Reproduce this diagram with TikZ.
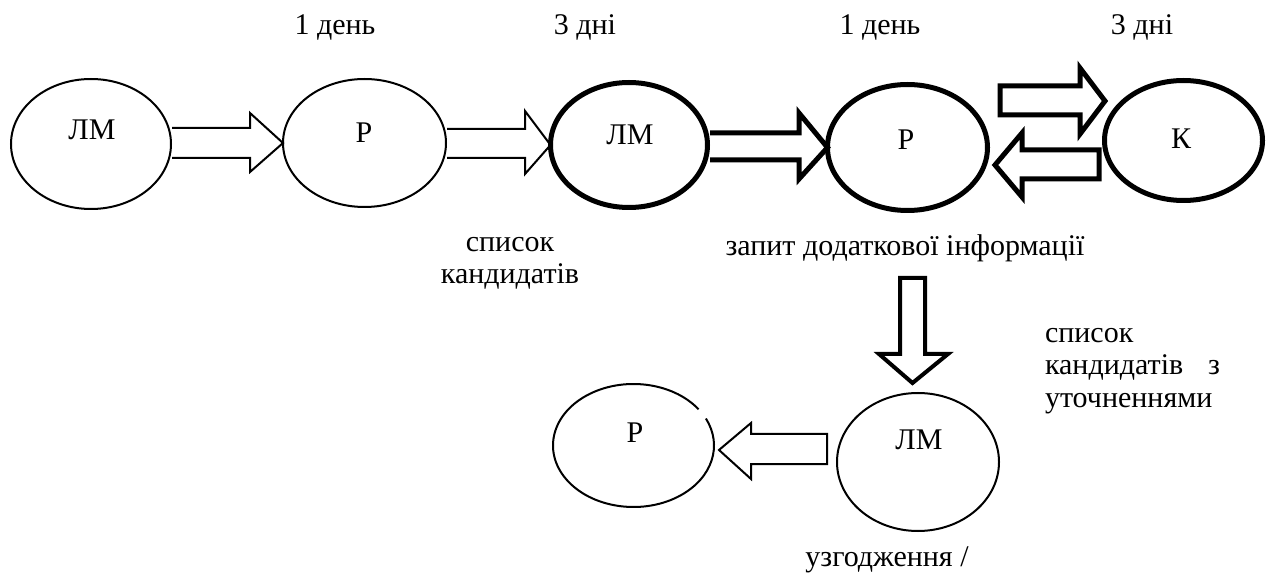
\documentclass[tikz,border=0pt]{standalone}
\usepackage{fontspec}
\setmainfont{Liberation Serif}
\usetikzlibrary{shapes.geometric}
\begin{document}
\begin{tikzpicture}[x=0.5pt,y=-0.5pt,
  every node/.style={inner sep=0pt, outer sep=0pt},
  txt/.style={font=\fontsize{15pt}{18pt}\selectfont},
  ov/.style={draw, ellipse, line width=1pt},
  ovthick/.style={draw, ellipse, line width=2.5pt},
  barrow/.style={draw, line width=1pt, line join=miter, miter limit=10},
  barrowthick/.style={draw, line width=2.5pt, line join=miter, miter limit=10}]
\useasboundingbox (0,0) rectangle (1270,577);

% ellipses
\node[ov, minimum width=80pt, minimum height=65pt] (e1) at (91,144) {};
\node[ov, minimum width=81.5pt, minimum height=64pt] (e2) at (364.5,143) {};
\node[ovthick, minimum width=78.5pt, minimum height=62.5pt] (e3) at (629,145) {};
\node[ovthick, minimum width=80pt, minimum height=63pt] (e4) at (907.5,147.5) {};
\node[ovthick, minimum width=79pt, minimum height=60pt] (e5) at (1183.5,140.5) {};
\node[ellipse, minimum width=80.5pt, minimum height=61.5pt] (e6) at (633.5,445.5) {};
\draw[line width=1pt] ([shift={(36:40.25pt and 30.75pt)}]e6.center)
  arc[start angle=36, end angle=386, x radius=40.25pt, y radius=30.75pt];
\node[ov, minimum width=81pt, minimum height=69pt] (e7) at (918,462) {};

% ellipse labels
\node[txt] (t1) at (92,130) {ЛМ};
\node[txt] (t2) at (364,133) {Р};
\node[txt] (t3) at (630,135) {ЛМ};
\node[txt] (t4) at (906,140) {Р};
\node[txt] (t5) at (1181,139) {К};
\node[txt] (t6) at (635,433) {Р};
\node[txt] (t7) at (919,440) {ЛМ};

% durations
\node[txt, anchor=base] (d1) at (335,35) {1 день};
\node[txt, anchor=base] (d2) at (585,35) {3 дні};
\node[txt, anchor=base] (d3) at (880,35) {1 день};
\node[txt, anchor=base] (d4) at (1142,35) {3 дні};

% other labels
\node[txt, anchor=base] (l1) at (510,252) {список};
\node[txt, anchor=base] (l2) at (510,284) {кандидатів};
\node[txt, anchor=base] (q) at (905,256) {запит додаткової інформації};
\node[txt, anchor=base west] (r1) at (1045,343) {список};
\node[txt, anchor=base west] (r2) at (1045,375) {\makebox[87.5pt][s]{кандидатів\hfill з}};
\node[txt, anchor=base west] (r3) at (1045,408) {уточненнями};
\node[txt, anchor=base] (u) at (887,566) {узгодження /};

% block arrows
\draw[barrow] (172,128) -- (250,128) -- (250,113) -- (e2.west) -- (250,172) -- (250,158) -- (172,158);
\draw[barrow] (447,129) -- (525,129) -- (525,111) -- (e3.west) -- (525,174) -- (525,158) -- (447,158);
\draw[barrowthick] (710,133) -- (799,133) -- (799,113) -- (e4.west) -- (799,179) -- (799,160) -- (710,160);
\draw[barrowthick] (1000,86) -- (1080,86) -- (1080,68) -- (1105,101) -- (1080,134) -- (1080,115) -- (1000,115) -- cycle;
\draw[barrowthick] (1099,150) -- (1022,150) -- (1022,133) -- (995,165) -- (1022,197) -- (1022,179) -- (1099,179) -- cycle;
\draw[barrow, line width=2pt] (900,278) -- (925,278) -- (925,354) -- (948,354) -- (912.5,383) -- (879,354) -- (900,354) -- cycle;
\draw[barrow] (827,434) -- (751,434) -- (751,423) -- (719,450) -- (751,479) -- (751,464) -- (827,464) -- cycle;
\end{tikzpicture}
\end{document}
